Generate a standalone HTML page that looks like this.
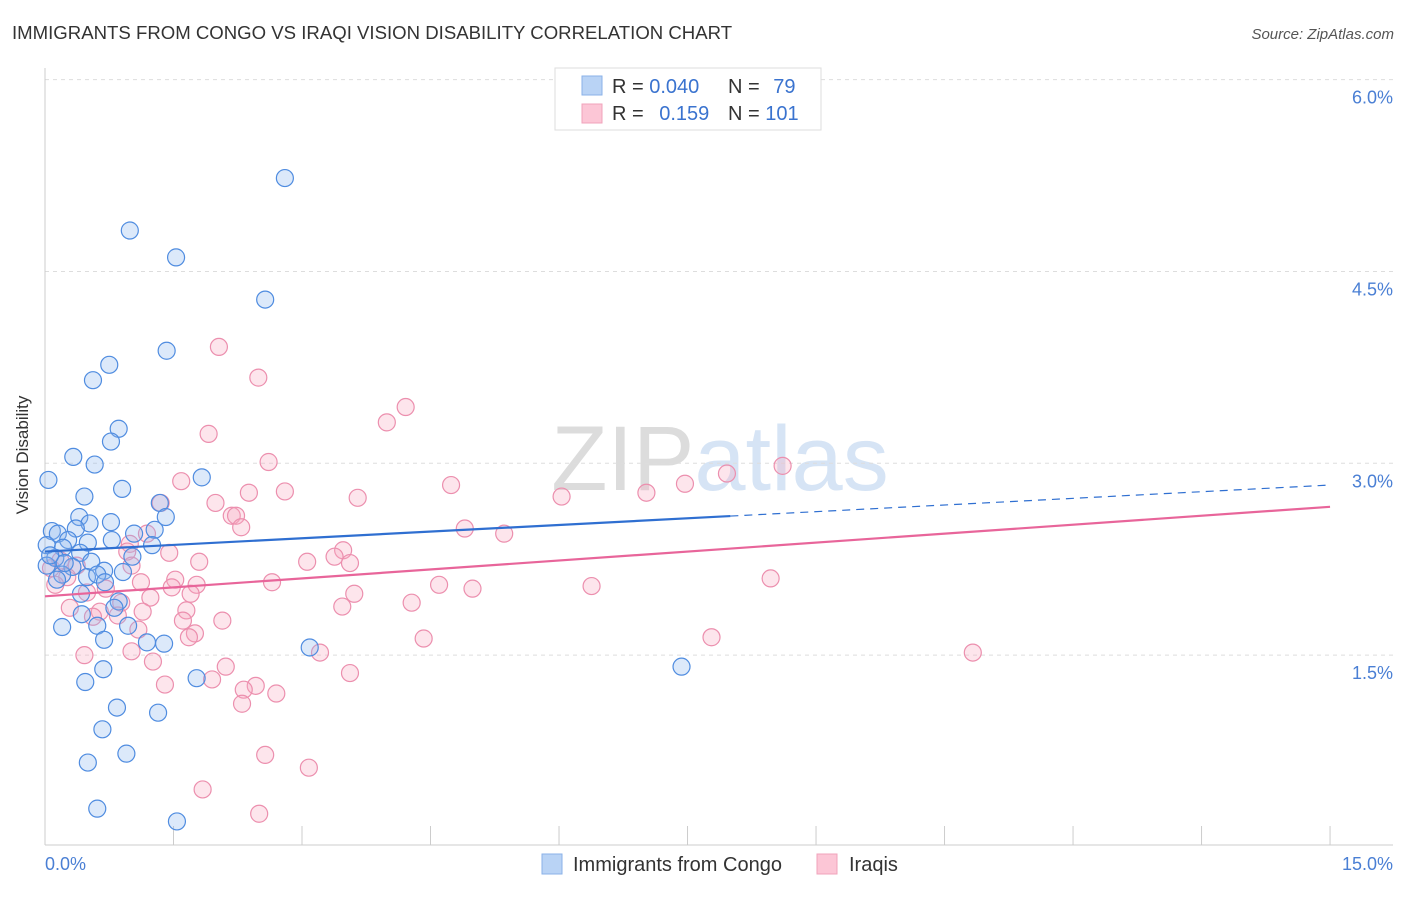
<!DOCTYPE html>
<html><head><meta charset="utf-8"><style>
body{margin:0;background:#fff;font-family:"Liberation Sans",sans-serif}
svg text{font-family:"Liberation Sans",sans-serif}
</style></head><body>
<svg id="c" width="1406" height="892">
<text x="12" y="39" font-size="18.6" fill="#333">IMMIGRANTS FROM CONGO VS IRAQI VISION DISABILITY CORRELATION CHART</text>
<text x="1394" y="39" font-size="15" fill="#555" font-style="italic" text-anchor="end">Source: ZipAtlas.com</text>
<text x="720" y="490" font-size="92" fill="#e6e6ea" text-anchor="middle" font-family="Liberation Serif"><tspan fill="#dcdcdc">ZIP</tspan><tspan fill="#d6e4f5" font-family="Liberation Sans">atlas</tspan></text>
<text x="28" y="455" font-size="17" fill="#333" text-anchor="middle" transform="rotate(-90 28 455)">Vision Disability</text>
<g id="grid"></g><g id="pts"></g><g id="trend"></g>
<g>
<rect x="555" y="68" width="266" height="62" fill="#fff" stroke="#ddd"/>
<rect x="582" y="76" width="20" height="19" fill="#b9d3f5" stroke="#8ab2e8"/>
<rect x="582" y="104" width="20" height="19" fill="#fcc6d6" stroke="#f0a3bb"/>
<text x="612" y="93" font-size="20" fill="#333">R = <tspan fill="#3a73cf">0.040</tspan></text>
<text x="728" y="93" font-size="20" fill="#333">N = <tspan fill="#3a73cf" dx="8">79</tspan></text>
<text x="612" y="120" font-size="20" fill="#333">R = <tspan fill="#3a73cf" dx="10">0.159</tspan></text>
<text x="728" y="120" font-size="20" fill="#333">N = <tspan fill="#3a73cf">101</tspan></text>
</g>
<g>
<rect x="542" y="854" width="20" height="20" fill="#b9d3f5" stroke="#8ab2e8"/>
<text x="573" y="871" font-size="20" fill="#333">Immigrants from Congo</text>
<rect x="817" y="854" width="20" height="20" fill="#fcc6d6" stroke="#f0a3bb"/>
<text x="849" y="871" font-size="20" fill="#333">Iraqis</text>
</g>
</svg>
<script>
const yTicks=[1.5,3.0,4.5,6.0];
const yTickLabels=["1.5%","3.0%","4.5%","6.0%"];
const xTickVals=[0,1.5,3,4.5,6,7.5,9,10.5,12,13.5,15];
const congoX=[2.80,0.99,1.53,2.57,1.42,0.75,0.56,0.86,0.77,0.33,0.58,1.83,0.04,0.90,0.46,1.34,1.41,0.40,0.52,0.77,0.36,1.28,1.04,0.08,0.15,0.27,0.50,0.78,1.25,0.02,0.21,0.41,1.02,0.12,0.54,0.02,0.32,0.69,0.91,0.20,0.49,0.61,0.14,0.70,0.42,0.86,0.43,0.81,0.61,0.20,0.97,0.69,1.19,1.39,3.09,7.43,0.68,0.47,1.77,0.84,1.32,0.67,0.95,0.50,0.61,1.54,0.23,0.06];
const congoY=[5.23,4.82,4.61,4.28,3.88,3.77,3.65,3.27,3.17,3.05,2.99,2.89,2.87,2.80,2.74,2.69,2.58,2.58,2.53,2.54,2.49,2.48,2.45,2.47,2.45,2.40,2.38,2.40,2.36,2.36,2.34,2.30,2.27,2.26,2.23,2.20,2.19,2.16,2.15,2.13,2.11,2.13,2.09,2.07,1.98,1.92,1.82,1.87,1.73,1.72,1.73,1.62,1.60,1.59,1.56,1.41,1.39,1.29,1.32,1.09,1.05,0.92,0.73,0.66,0.30,0.20,2.22,2.28];
const iraqX=[2.03,2.49,4.21,3.99,1.91,2.61,8.61,7.96,1.59,7.47,4.74,2.80,2.38,7.02,6.03,3.65,1.99,1.35,2.18,2.23,2.29,4.90,5.36,1.19,0.99,3.48,0.96,1.45,3.38,1.80,3.06,3.56,1.01,0.37,0.07,0.26,8.47,1.52,2.65,4.60,1.12,1.77,1.48,6.38,4.99,0.71,3.61,1.70,1.23,0.89,4.28,3.47,0.29,1.65,1.14,0.64,0.85,2.07,1.61,1.09,1.75,1.68,7.78,4.42,3.21,10.83,0.46,1.01,1.26,2.11,3.56,1.40,1.95,2.46,2.32,2.70,2.30,2.57,3.08,1.84,2.50,0.56,0.12,0.18,0.49];
const iraqY=[3.91,3.67,3.44,3.32,3.23,3.01,2.98,2.92,2.86,2.84,2.83,2.78,2.77,2.77,2.74,2.73,2.69,2.69,2.59,2.59,2.50,2.49,2.45,2.45,2.37,2.32,2.31,2.30,2.27,2.23,2.23,2.22,2.20,2.20,2.18,2.11,2.10,2.09,2.07,2.05,2.07,2.05,2.03,2.04,2.02,2.02,1.98,1.98,1.95,1.91,1.91,1.88,1.87,1.85,1.84,1.84,1.81,1.77,1.77,1.70,1.67,1.64,1.64,1.63,1.52,1.52,1.50,1.53,1.45,1.41,1.36,1.27,1.31,1.26,1.23,1.20,1.12,0.72,0.62,0.45,0.26,1.80,2.05,2.24,1.99];
const congoTrend=[2.31,2.83];
const iraqTrend=[1.96,2.66];
const NS="http://www.w3.org/2000/svg";
const sx=v=>45+v*85.67, sy=v=>847-v*127.9;
function mk(t,a,p){const e=document.createElementNS(NS,t);for(const k in a)e.setAttribute(k,a[k]);p.appendChild(e);return e;}
const grid=document.getElementById('grid');
yTicks.forEach((t,i)=>{
 const l=mk('line',{x1:45,x2:1393,y1:sy(t),y2:sy(t),stroke:'#ddd','stroke-dasharray':'4,4'},grid);
 
 
 const tx=mk('text',{x:1393,y:sy(t)+24,'font-size':18,fill:'#4a7fd4','text-anchor':'end'},grid);
 tx.textContent=yTickLabels[i];
 
 
});
mk('line',{x1:45,x2:45,y1:68,y2:845,stroke:'#ccc'},grid);
mk('line',{x1:45,x2:1393,y1:845,y2:845,stroke:'#ccc'},grid);
xTickVals.forEach(v=>{const l=mk('line',{x1:sx(v),x2:sx(v),y1:826,y2:845,stroke:'#ccc'},grid);
 
 });
const xl0=mk('text',{x:45,y:870,'font-size':18,fill:'#4a7fd4'},grid);xl0.textContent='0.0%';


const xl1=mk('text',{x:1393,y:870,'font-size':18,fill:'#4a7fd4','text-anchor':'end'},grid);xl1.textContent='15.0%';


const pts=document.getElementById('pts');
function dots(X,Y,f,s,n){X.forEach((x,i)=>{const c=mk('circle',{cx:sx(x),cy:sy(Y[i]),r:8.5,fill:f,'fill-opacity':0.3,stroke:s,'stroke-width':1.2},pts);
 
 });}
dots(iraqX,iraqY,'#f7a8c0','#ec8fae','iraqis-point');
dots(congoX,congoY,'#8cb6ef','#4f8ce0','congo-point');
const tr=document.getElementById('trend');
const at=(t,x)=>t[0]+(t[1]-t[0])*x/15;
const b1=mk('line',{x1:sx(0),y1:sy(at(congoTrend,0)),x2:sx(8),y2:sy(at(congoTrend,8)),stroke:'#2f6fd1','stroke-width':2.2},tr);


const b2=mk('line',{x1:sx(8),y1:sy(at(congoTrend,8)),x2:sx(15),y2:sy(at(congoTrend,15)),stroke:'#2f6fd1','stroke-width':1.2,'stroke-dasharray':'8,6'},tr);


const p1=mk('line',{x1:sx(0),y1:sy(at(iraqTrend,0)),x2:sx(15),y2:sy(at(iraqTrend,15)),stroke:'#e8659a','stroke-width':2.2},tr);


</script>
</body></html>
